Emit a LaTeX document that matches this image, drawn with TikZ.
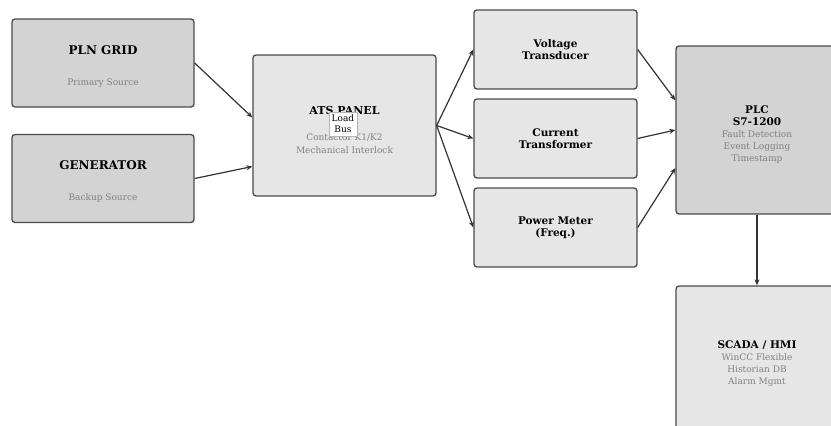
\documentclass[tikz,border=0pt]{standalone}
\usepackage{fontspec}
\setmainfont{DejaVu Serif}
\usetikzlibrary{arrows.meta}
\definecolor{srcfill}{HTML}{D3D3D3}
\definecolor{boxfill}{HTML}{E6E6E6}
\definecolor{edgegray}{HTML}{4A4A4A}
\definecolor{subgray}{HTML}{808080}
\tikzset{
  unit/.style={draw=edgegray, line width=1.3pt, rounded corners=3pt, align=center, inner sep=2pt,
    font=\fontsize{10.5}{12}\selectfont\bfseries},
  srcbox/.style={unit, fill=srcfill, minimum width=182pt, minimum height=88pt},
  atsbox/.style={unit, fill=boxfill, minimum width=183pt, minimum height=141pt},
  sensbox/.style={unit, fill=boxfill, minimum width=163pt, minimum height=79pt},
  plcbox/.style={unit, fill=srcfill, minimum width=162pt, minimum height=168pt},
  hmibox/.style={unit, fill=boxfill, minimum width=162pt, minimum height=152pt},
  tag/.style={draw=subgray!60, line width=0.4pt, fill=white, align=center, inner sep=3pt, font=\fontsize{9}{11}\selectfont},
  conn/.style={draw=black!80, line width=1.2pt, -{Stealth[length=6pt,width=5pt]}}
}
\newcommand{\subtxt}[1]{{\color{subgray}\mdseries\fontsize{9}{12}\selectfont #1}}
\newcommand{\lift}[1]{\rule{0pt}{#1}}
\begin{document}
\begin{tikzpicture}[x=1pt, y=-1pt]
  \useasboundingbox (0,0) rectangle (831,426);

  % power sources
  \node[srcbox, font=\fontsize{12}{14}\selectfont\bfseries] (grid) at (103,63) {\lift{16pt}PLN GRID\\[17pt]\subtxt{Primary Source}};
  \node[srcbox, font=\fontsize{12}{14}\selectfont\bfseries] (genset) at (103,178.5) {\lift{15pt}GENERATOR\\[17pt]\subtxt{Backup Source}};

  % transfer switch
  \node[atsbox, font=\fontsize{11}{13}\selectfont\bfseries] (ats) at (344.5,125.5) {\lift{17pt}ATS PANEL\\[13pt]\subtxt{Contactor K1/K2}\\\subtxt{Mechanical Interlock}};
  \node[tag] (bus) at (343,124) {Load\\Bus};

  % measurement
  \node[sensbox] (vt) at (555.5,49.5) {Voltage\\Transducer};
  \node[sensbox] (ct) at (555.5,138.5) {Current\\Transformer};
  \node[sensbox] (pm) at (555.5,227.5) {Power Meter\\(Freq.)};

  % control
  \node[plcbox] (plc) at (757,130) {\lift{17pt}PLC\\S7-1200\\\subtxt{Fault Detection}\\\subtxt{Event Logging}\\\subtxt{Timestamp}};
  \node[hmibox] (scada) at (757,362) {\lift{10pt}SCADA / HMI\\\subtxt{WinCC Flexible}\\\subtxt{Historian DB}\\\subtxt{Alarm Mgmt}};

  \draw[conn] (grid.east) -- (ats.175);
  \draw[conn] (genset.east) -- (ats.204);

  \draw[conn] (ats.east) -- (vt.west);
  \draw[conn] (ats.east) -- (ct.west);
  \draw[conn] (ats.east) -- (pm.west);

  \draw[conn] (vt.east) -- (plc.160);
  \draw[conn] (ct.east) -- (plc.west);
  \draw[conn] (pm.east) -- (plc.205);

  \draw[conn] (plc.south) -- (scada.north);
\end{tikzpicture}
\end{document}
